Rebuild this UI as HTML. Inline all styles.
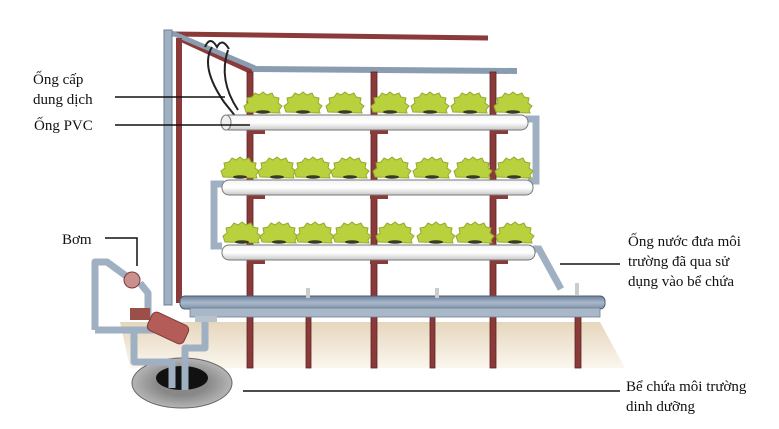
<!DOCTYPE html>
<html><head><meta charset="utf-8"><style>
html,body{margin:0;padding:0;background:#fff;width:779px;height:429px;overflow:hidden}
svg{display:block}
text{font-family:"Liberation Serif",serif;font-size:15px;fill:#111}
</style></head><body>
<svg width="779" height="429" viewBox="0 0 779 429" xmlns="http://www.w3.org/2000/svg">
<defs>
<linearGradient id="floor" x1="0" y1="0" x2="0" y2="1"><stop offset="0" stop-color="#e6d6bd"/><stop offset="1" stop-color="#fbf6ee"/></linearGradient>
<linearGradient id="pipe" x1="0" y1="0" x2="0" y2="1"><stop offset="0" stop-color="#f4f4f4"/><stop offset=".5" stop-color="#ffffff"/><stop offset="1" stop-color="#c9c9c9"/></linearGradient>
<linearGradient id="trough" x1="0" y1="0" x2="0" y2="1"><stop offset="0" stop-color="#6b7f97"/><stop offset=".5" stop-color="#a9b8cc"/><stop offset="1" stop-color="#7d8fa6"/></linearGradient>
<radialGradient id="res" cx=".5" cy=".5" r=".5"><stop offset=".5" stop-color="#888"/><stop offset="1" stop-color="#b5b5b5"/></radialGradient>
<g id="plant"><path d="M-17,5 l-2,-6 l4,-3 l-1,-5 l5,-1 l3,-4 l4,2 l4,-3 l4,3 l5,-2 l2,4 l5,1 l-1,5 l4,3 l-3,4 l1,3 z" fill="#b9d13c" stroke="#93aa2c" stroke-width="1"/><ellipse cx="0" cy="5" rx="7" ry="1.8" fill="#3a3a22"/></g>
</defs>
<polygon points="120,322 600,322 625,368 130,368" fill="url(#floor)"/>
<ellipse cx="182" cy="383" rx="50" ry="25" fill="url(#res)" stroke="#666"/>
<ellipse cx="182" cy="378" rx="26" ry="12" fill="#111"/>
<line x1="172" y1="34" x2="488" y2="38" stroke="#8b3a3a" stroke-width="5"/>
<line x1="178" y1="38" x2="252" y2="72" stroke="#8b3a3a" stroke-width="5"/>
<line x1="172" y1="33" x2="255" y2="68" stroke="#8a9cb0" stroke-width="5"/>
<line x1="252" y1="69" x2="517" y2="71" stroke="#8a9cb0" stroke-width="6"/>
<rect x="164" y="30" width="8" height="275" fill="#9fb0c2" stroke="#6f8093" stroke-width="1"/>
<rect x="176" y="38" width="6" height="265" fill="#8b3a3a"/>
<g fill="#8b3a3a" stroke="#5e2222" stroke-width=".8">
<rect x="247" y="72" width="6" height="296"/>
<rect x="371" y="72" width="6" height="296"/>
<rect x="490" y="72" width="6" height="296"/>
<rect x="306" y="300" width="5" height="68"/>
<rect x="430" y="300" width="5" height="68"/>
<rect x="575" y="300" width="6" height="68"/>
</g>
<path d="M212,47 q-12,20 12,55 l12,15 M228,50 q-10,30 10,60" stroke="#222" stroke-width="2" fill="none"/>
<path d="M205,47 q5,-12 12,0 q5,-10 12,2" stroke="#222" stroke-width="2" fill="none"/>
<path d="M526,119 h10 v62 h-8" stroke="#9fb0c2" stroke-width="7" fill="none"/>
<path d="M224,184 h-10 v62 h8" stroke="#9fb0c2" stroke-width="7" fill="none"/>
<path d="M533,249 h6 l22,40" stroke="#9fb0c2" stroke-width="7" fill="none"/>
<g fill="#8b3a3a">
<rect x="247" y="129" width="18" height="5"/><rect x="370" y="129" width="18" height="5"/><rect x="490" y="129" width="18" height="5"/>
<rect x="247" y="194" width="18" height="5"/><rect x="370" y="194" width="18" height="5"/><rect x="490" y="194" width="18" height="5"/>
<rect x="247" y="259" width="18" height="5"/><rect x="370" y="259" width="18" height="5"/><rect x="490" y="259" width="18" height="5"/>
</g>
<g stroke="#777" stroke-width="1">
<rect x="222" y="115" width="306" height="15" rx="7" fill="url(#pipe)"/>
<ellipse cx="226" cy="122.5" rx="5" ry="7.5" fill="#eee"/>
<rect x="222" y="180" width="311" height="15" rx="7" fill="url(#pipe)"/>
<rect x="222" y="245" width="313" height="15" rx="7" fill="url(#pipe)"/>
</g>
<use href="#plant" x="263" y="107"/><use href="#plant" x="303" y="107"/><use href="#plant" x="345" y="107"/><use href="#plant" x="390" y="107"/><use href="#plant" x="430" y="107"/><use href="#plant" x="470" y="107"/><use href="#plant" x="513" y="107"/>
<use href="#plant" x="240" y="172"/><use href="#plant" x="277" y="172"/><use href="#plant" x="313" y="172"/><use href="#plant" x="350" y="172"/><use href="#plant" x="392" y="172"/><use href="#plant" x="432" y="172"/><use href="#plant" x="473" y="172"/><use href="#plant" x="514" y="172"/>
<use href="#plant" x="242" y="237"/><use href="#plant" x="279" y="237"/><use href="#plant" x="315" y="237"/><use href="#plant" x="352" y="237"/><use href="#plant" x="395" y="237"/><use href="#plant" x="436" y="237"/><use href="#plant" x="475" y="237"/><use href="#plant" x="515" y="237"/>
<rect x="180" y="296" width="425" height="13" rx="5" fill="url(#trough)" stroke="#4f5f73"/>
<rect x="190" y="308" width="410" height="9" fill="#a9b8c8" stroke="#6f8093" stroke-width=".8"/>
<rect x="435" y="288" width="4" height="10" fill="#ccc"/><rect x="306" y="288" width="4" height="10" fill="#ccc"/><rect x="575" y="283" width="4" height="12" fill="#ccc"/>
<g fill="none" stroke="#9fb0c2" stroke-width="7" stroke-linejoin="round">
<path d="M95,330 V262 h12 l22,16"/>
<path d="M140,283 l8,10 V320"/>
<path d="M95,330 h60"/>
<path d="M134,330 V362 h38 V388"/>
<path d="M205,320 V348 h-20 V390"/>
</g>
<circle cx="132" cy="280" r="8" fill="#c9908e" stroke="#7a3a3a"/>
<rect x="130" y="308" width="20" height="12" fill="#9a5048"/>
<rect x="148" y="318" width="40" height="20" rx="5" fill="#b45c58" stroke="#7a3a3a" transform="rotate(25 168 328)"/>
<rect x="195" y="316" width="22" height="6" fill="#b7c2cf"/>
<g stroke="#111" stroke-width="1.5" fill="none">
<line x1="115" y1="97" x2="225" y2="97"/>
<line x1="115" y1="125" x2="250" y2="125"/>
<polyline points="105,238 137,238 137,266"/>
<line x1="560" y1="264" x2="620" y2="264"/>
<line x1="243" y1="391" x2="620" y2="391"/>
</g>
<text x="33" y="84">Ống cấp</text>
<text x="33" y="104">dung dịch</text>
<text x="34" y="130">Ống PVC</text>
<text x="62" y="244">Bơm</text>
<text x="628" y="246">Ống nước đưa môi</text>
<text x="628" y="266">trường đã qua sử</text>
<text x="628" y="286">dụng vào bể chứa</text>
<text x="626" y="391">Bể chứa môi trường</text>
<text x="626" y="411">dinh dưỡng</text>
</svg>
</body></html>
